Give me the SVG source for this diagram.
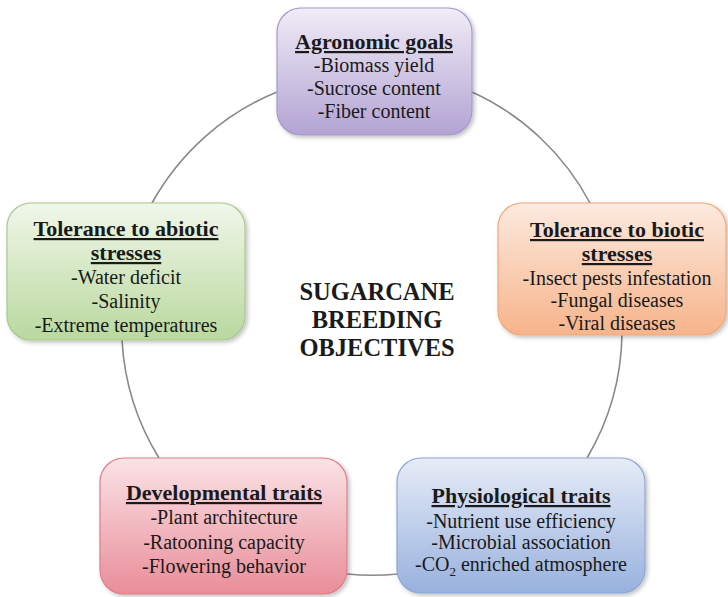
<svg xmlns="http://www.w3.org/2000/svg" width="728" height="597" viewBox="0 0 728 597">
<defs>
<linearGradient id="gPurple" x1="0" y1="0" x2="0" y2="1"><stop offset="0" stop-color="#f0ecf7"/><stop offset="1" stop-color="#b3a3d3"/></linearGradient>
<linearGradient id="gGreen" x1="0" y1="0" x2="0" y2="1"><stop offset="0" stop-color="#f1f7ea"/><stop offset="1" stop-color="#b9d89e"/></linearGradient>
<linearGradient id="gOrange" x1="0" y1="0" x2="0" y2="1"><stop offset="0" stop-color="#fdeadf"/><stop offset="1" stop-color="#f6b48a"/></linearGradient>
<linearGradient id="gPink" x1="0" y1="0" x2="0" y2="1"><stop offset="0" stop-color="#fae3e6"/><stop offset="1" stop-color="#e98d99"/></linearGradient>
<linearGradient id="gBlue" x1="0" y1="0" x2="0" y2="1"><stop offset="0" stop-color="#e6ecf7"/><stop offset="1" stop-color="#98b1de"/></linearGradient>
<filter id="sh" x="-10%" y="-10%" width="125%" height="125%"><feDropShadow dx="2" dy="2" stdDeviation="2" flood-color="#000" flood-opacity="0.25"/></filter>
</defs>
<style>
.box{stroke-width:1.2;filter:url(#sh)}
.t{font-family:"Liberation Serif","Times New Roman",serif;fill:#1a1a1a;text-anchor:middle}
.h{font-size:22px;font-weight:bold;text-decoration:underline}
.b{font-size:20px}
.c{font-size:24.5px;font-weight:bold}
.arc{fill:none;stroke:#8c8888;stroke-width:1.6}
</style>
<g id="connectors">
<path class="arc" d="M152,203 A251,251 0 0 1 277,92"/>
<path class="arc" d="M472,92 A251,251 0 0 1 590,203"/>
<path class="arc" d="M622,335 A251,251 0 0 1 587,458"/>
<path class="arc" d="M398,574 A251,251 0 0 1 347,574"/>
<path class="arc" d="M159,458 A251,251 0 0 1 122,340"/>
</g>
<g id="agronomic">
<rect class="box" x="277" y="8" width="195" height="127" rx="24" fill="url(#gPurple)" stroke="#a898cc"/>
<text class="t h" x="374" y="49">Agronomic goals</text>
<text class="t b" x="374" y="72">-Biomass yield</text>
<text class="t b" x="374" y="95">-Sucrose content</text>
<text class="t b" x="374" y="118">-Fiber content</text>
</g>
<g id="abiotic">
<rect class="box" x="7" y="203" width="238" height="137" rx="24" fill="url(#gGreen)" stroke="#a9c98e"/>
<text class="t h" x="126" y="236">Tolerance to abiotic</text>
<text class="t h" x="126" y="260">stresses</text>
<text class="t b" x="126" y="284">-Water deficit</text>
<text class="t b" x="126" y="308">-Salinity</text>
<text class="t b" x="126" y="332">-Extreme temperatures</text>
</g>
<g id="biotic">
<rect class="box" x="498" y="203" width="228" height="132" rx="24" fill="url(#gOrange)" stroke="#f2a678"/>
<text class="t h" x="617" y="237">Tolerance to biotic</text>
<text class="t h" x="617" y="261">stresses</text>
<text class="t b" x="617" y="285">-Insect pests infestation</text>
<text class="t b" x="617" y="307">-Fungal diseases</text>
<text class="t b" x="617" y="330">-Viral diseases</text>
</g>
<g id="developmental">
<rect class="box" x="100" y="458" width="247" height="136" rx="24" fill="url(#gPink)" stroke="#dc7e8a"/>
<text class="t h" x="224" y="500">Developmental traits</text>
<text class="t b" x="224" y="524">-Plant architecture</text>
<text class="t b" x="224" y="549">-Ratooning capacity</text>
<text class="t b" x="224" y="573">-Flowering behavior</text>
</g>
<g id="physiological">
<rect class="box" x="397" y="458" width="248" height="135" rx="24" fill="url(#gBlue)" stroke="#8ea6d4"/>
<text class="t h" x="521" y="503">Physiological traits</text>
<text class="t b" x="521" y="528">-Nutrient use efficiency</text>
<text class="t b" x="521" y="549">-Microbial association</text>
<text class="t b" x="521" y="571">-CO<tspan font-size="13" dy="5">2</tspan><tspan dy="-5"> enriched atmosphere</tspan></text>
</g>
<g id="center">
<text class="t c" x="377" y="300">SUGARCANE</text>
<text class="t c" x="377" y="328">BREEDING</text>
<text class="t c" x="377" y="356">OBJECTIVES</text>
</g>
</svg>
